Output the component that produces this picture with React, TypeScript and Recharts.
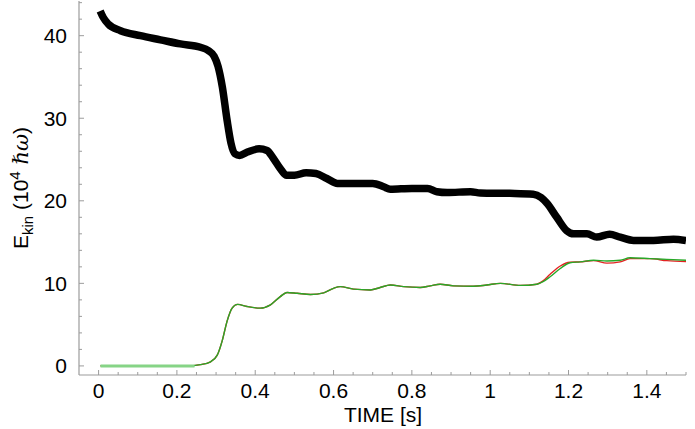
import { LineChart, Line, XAxis, YAxis } from 'recharts';

// kinetic energy, black band (total)
const totalT = [0.004, 0.012, 0.025, 0.056, 0.107, 0.158, 0.209, 0.26, 0.28, 0.295, 0.305, 0.316, 0.328, 0.338, 0.348, 0.36, 0.38, 0.41, 0.43, 0.447, 0.464, 0.48, 0.5, 0.53, 0.555, 0.583, 0.61, 0.65, 0.7, 0.728, 0.745, 0.8, 0.84, 0.864, 0.89, 0.95, 0.975, 1.05, 1.11, 1.13, 1.145, 1.17, 1.195, 1.213, 1.247, 1.272, 1.305, 1.332, 1.366, 1.417, 1.468, 1.5];
const totalV = [43.0, 42.2, 41.4, 40.6, 40.0, 39.5, 39.0, 38.6, 38.2, 37.5, 36.3, 33.8, 29.8, 27.0, 25.7, 25.5, 25.9, 26.3, 26.1, 25.1, 23.9, 23.1, 23.1, 23.4, 23.3, 22.7, 22.1, 22.1, 22.1, 21.7, 21.4, 21.5, 21.5, 21.1, 21.0, 21.1, 20.95, 20.9, 20.8, 20.4, 19.7, 18.0, 16.4, 16.0, 16.0, 15.6, 15.95, 15.6, 15.2, 15.2, 15.35, 15.2];

// green and red curves share the same sample times
const partT = [0.005, 0.1, 0.2, 0.225, 0.26, 0.286, 0.303, 0.316, 0.328, 0.341, 0.355, 0.379, 0.413, 0.439, 0.464, 0.481, 0.507, 0.541, 0.575, 0.6, 0.617, 0.651, 0.694, 0.719, 0.745, 0.779, 0.821, 0.847, 0.872, 0.906, 0.957, 0.991, 1.026, 1.077, 1.119, 1.135, 1.153, 1.179, 1.204, 1.23, 1.264, 1.298, 1.332, 1.357, 1.408, 1.451, 1.5];
const greenV = [0, 0, 0, 0, 0.15, 0.5, 1.3, 3.1, 5.4, 7.0, 7.45, 7.2, 7.0, 7.4, 8.4, 8.9, 8.8, 8.65, 8.85, 9.4, 9.6, 9.3, 9.2, 9.5, 9.8, 9.6, 9.5, 9.7, 9.9, 9.7, 9.65, 9.8, 10.0, 9.75, 9.9, 10.2, 10.8, 11.8, 12.5, 12.6, 12.8, 12.7, 12.8, 13.1, 13.0, 12.9, 12.8];
const redV = [0, 0, 0, 0, 0.15, 0.5, 1.3, 3.1, 5.4, 7.0, 7.45, 7.2, 7.0, 7.4, 8.4, 8.9, 8.8, 8.65, 8.85, 9.4, 9.6, 9.3, 9.2, 9.5, 9.8, 9.6, 9.5, 9.7, 9.9, 9.7, 9.65, 9.8, 10.0, 9.75, 9.9, 10.3, 11.1, 12.1, 12.55, 12.6, 12.75, 12.45, 12.6, 13.0, 13.0, 12.75, 12.65];

// pale flat start segment
const startT = [0.005, 0.245];
const startV = [0, 0];

const xMajor = [0, 0.2, 0.4, 0.6, 0.8, 1, 1.2, 1.4];
const yMajor = [0, 10, 20, 30, 40];

const xTicks = Array.from({ length: 31 }, (_, i) => +(i * 0.05).toFixed(2));
const yTicks = Array.from({ length: 23 }, (_, i) => i * 2);

const totalData = totalT.map((t, i) => ({ t, v: totalV[i] }));
const greenData = partT.map((t, i) => ({ t, v: greenV[i] }));
const redData = partT.map((t, i) => ({ t, v: redV[i] }));
const startData = startT.map((t, i) => ({ t, v: startV[i] }));

const AXIS = '#9c9c9c';
const FONT = '"Liberation Sans", Arial, sans-serif';

const isXMajor = (v: number) => xMajor.some((m) => Math.abs(m - v) < 1e-6);
const isYMajor = (v: number) => yMajor.includes(v);

function BottomTick({ x, y, payload }: any) {
  const major = isXMajor(payload.value);
  return (
    <g>
      <line x1={x} y1={y} x2={x} y2={y - (major ? 5 : 3)} stroke={AXIS} />
      {major && (
        <text x={x} y={y + 23} textAnchor="middle" fontSize={21} fontFamily={FONT} fill="#000">
          {String(payload.value)}
        </text>
      )}
    </g>
  );
}

function TopTick({ x, y, payload }: any) {
  const major = isXMajor(payload.value);
  return <line x1={x} y1={y} x2={x} y2={y + (major ? 5 : 3)} stroke={AXIS} />;
}

function LeftTick({ x, y, payload }: any) {
  const major = isYMajor(payload.value);
  return (
    <g>
      <line x1={x} y1={y} x2={x + (major ? 5 : 3)} y2={y} stroke={AXIS} />
      {major && (
        <text x={x - 12} y={y} dy={7.5} textAnchor="end" fontSize={21} fontFamily={FONT} fill="#000">
          {String(payload.value)}
        </text>
      )}
    </g>
  );
}

function RightTick({ x, y, payload }: any) {
  const major = isYMajor(payload.value);
  return <line x1={x} y1={y} x2={x - (major ? 5 : 3)} y2={y} stroke={AXIS} />;
}

function YLabel() {
  return (
    <text transform="translate(28,188) rotate(-90)" textAnchor="middle" fontSize={21} fontFamily={FONT} fill="#000">
      E<tspan fontSize={15} dy={5}>kin</tspan>
      <tspan dy={-5}> (10</tspan>
      <tspan fontSize={15} dy={-8}>4</tspan>
      <tspan dy={8} fontFamily='"DejaVu Serif", serif' fontStyle="italic"> ℏω</tspan>
      <tspan>)</tspan>
    </text>
  );
}

function XLabel() {
  return (
    <text x={383} y={422} textAnchor="middle" fontSize={21} fontFamily={FONT} fill="#000">
      TIME [s]
    </text>
  );
}

export default function App() {
  return (
    <div style={{ position: 'absolute', left: 0, top: 0, width: 695, height: 429, background: '#fff' }}>
      <LineChart width={695} height={429} margin={{ top: 1, right: 9, bottom: 0, left: 0 }}>
        <XAxis
          xAxisId="b"
          type="number"
          dataKey="t"
          domain={[-0.05, 1.5]}
          ticks={xTicks}
          interval={0}
          height={54}
          tickSize={0}
          tickMargin={0}
          tickLine={false}
          axisLine={{ stroke: AXIS, strokeWidth: 1.2 }}
          tick={<BottomTick />}
          allowDataOverflow
          label={<XLabel />}
        />
        <XAxis
          xAxisId="t"
          orientation="top"
          type="number"
          dataKey="t"
          domain={[-0.05, 1.5]}
          ticks={xTicks}
          interval={0}
          height={0}
          tickSize={0}
          tickMargin={0}
          tickLine={false}
          axisLine={{ stroke: AXIS, strokeWidth: 1.2 }}
          tick={<TopTick />}
          allowDataOverflow
        />
        <YAxis
          yAxisId="l"
          type="number"
          domain={[-1.1, 44.2]}
          ticks={yTicks}
          interval={0}
          width={79}
          tickSize={0}
          tickMargin={0}
          tickLine={false}
          axisLine={{ stroke: AXIS, strokeWidth: 1.2 }}
          tick={<LeftTick />}
          allowDataOverflow
          label={<YLabel />}
        />
        <YAxis
          yAxisId="r"
          orientation="right"
          type="number"
          domain={[-1.1, 44.2]}
          ticks={yTicks}
          interval={0}
          width={0}
          tickSize={0}
          tickMargin={0}
          tickLine={false}
          axisLine={{ stroke: AXIS, strokeWidth: 1.2 }}
          tick={<RightTick />}
          allowDataOverflow
        />
        <Line xAxisId="b" yAxisId="l" data={redData} dataKey="v" type="monotone" stroke="#e32222" strokeWidth={1.4} dot={false} isAnimationActive={false} />
        <Line xAxisId="b" yAxisId="l" data={greenData} dataKey="v" type="monotone" stroke="#28a828" strokeWidth={1.4} dot={false} isAnimationActive={false} />
        <Line xAxisId="b" yAxisId="l" data={startData} dataKey="v" type="linear" stroke="#86d486" strokeWidth={3} dot={false} isAnimationActive={false} />
        <Line xAxisId="b" yAxisId="l" data={totalData} dataKey="v" type="monotone" stroke="#000" strokeWidth={7.5} dot={false} isAnimationActive={false} />
      </LineChart>
    </div>
  );
}
